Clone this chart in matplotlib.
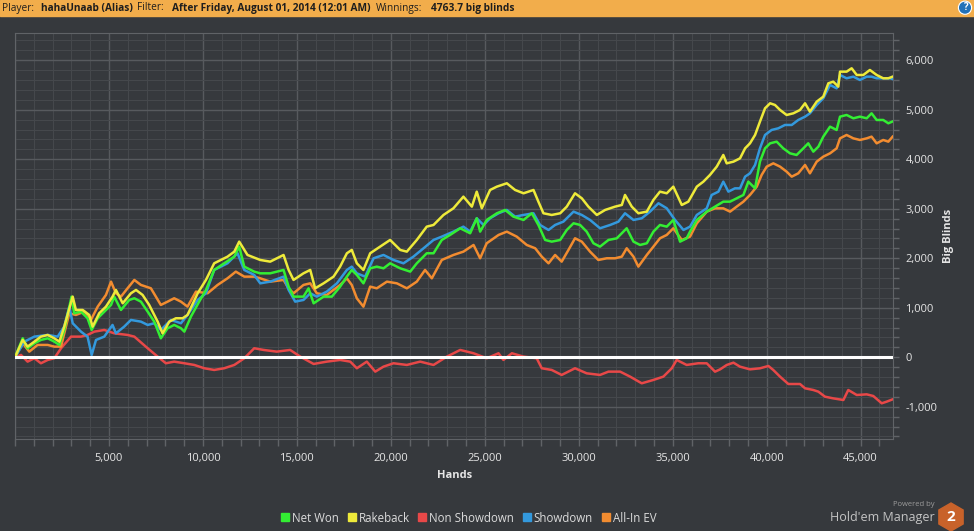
import matplotlib
matplotlib.use("Agg")
import matplotlib.pyplot as plt
from matplotlib.ticker import MultipleLocator, FuncFormatter
from matplotlib.lines import Line2D
from matplotlib.patches import Rectangle, RegularPolygon, Circle

# ── Data ────────────────────────────────────────────────────────────────────
net_won_hands = [0, 410, 670, 1030, 1380, 1740, 2090, 2360, 2620, 3010,
                 3150, 3510, 3860, 4080, 4400, 4750, 5110, 5280, 5640, 6080,
                 6350, 6700, 7060, 7410, 7760, 8120, 8470, 8830, 9010, 9360,
                 9800, 10160, 10600, 11130, 11670, 11930, 12200, 12730, 13050, 13580,
                 14290, 14560, 14820, 15350, 15620, 15890, 16420, 16860, 17300, 17660,
                 17920, 18190, 18540, 18900, 19250, 19610, 19960, 20500, 21030, 21380,
                 21910, 22270, 22710, 23150, 23690, 24220, 24570, 24750, 25100, 25640,
                 26080, 26520, 27060, 27500, 27850, 28210, 28560, 29010, 29360, 29720,
                 30070, 30420, 30780, 31130, 31580, 32020, 32550, 32910, 33260, 33620,
                 33970, 34320, 34680, 35030, 35390, 35740, 35920, 36280, 36810, 37250,
                 37690, 38050, 38400, 38760, 39020, 39380, 39640, 39910, 40180, 40530,
                 40880, 41240, 41590, 41950, 42210, 42480, 42750, 43010, 43370, 43720,
                 43900, 44250, 44610, 44960, 45320, 45580, 45850, 46200, 46470, 46700]
net_won_bb = [0, 383, 181, 282, 350, 383, 316, 249, 552, 1225,
              889, 922, 788, 552, 788, 922, 1057, 1225, 956, 1158,
              1192, 1124, 922, 720, 383, 586, 653, 586, 518, 821,
              1124, 1360, 1764, 1899, 2033, 2235, 1831, 1730, 1696, 1696,
              1764, 1427, 1225, 1225, 1393, 1090, 1225, 1225, 1427, 1629,
              1764, 1663, 1494, 1797, 1831, 1797, 1898, 1797, 1730, 1898,
              2101, 2101, 2370, 2471, 2606, 2505, 2808, 2538, 2774, 2909,
              2976, 2841, 2774, 2909, 2673, 2370, 2336, 2370, 2572, 2707,
              2673, 2538, 2303, 2235, 2370, 2403, 2606, 2336, 2269, 2303,
              2538, 2673, 2639, 2774, 2336, 2403, 2538, 2774, 2942, 3043,
              3144, 3144, 3211, 3279, 3548, 3413, 3952, 4221, 4322, 4356,
              4221, 4120, 4087, 4221, 4322, 4154, 4255, 4457, 4659, 4592,
              4861, 4895, 4828, 4861, 4828, 4929, 4794, 4794, 4727, 4764]

rakeback_hands = [0, 410, 670, 1030, 1380, 1740, 2090, 2360, 2620, 3070,
                  3240, 3600, 3950, 4130, 4480, 4840, 5190, 5370, 5730, 6170,
                  6440, 6790, 7140, 7590, 7850, 8210, 8560, 8920, 9180, 9720,
                  10160, 10600, 11310, 11670, 11930, 12370, 12820, 13050, 13580, 14290,
                  14560, 14820, 15350, 15710, 15970, 16420, 16950, 17300, 17660, 17920,
                  18190, 18540, 18900, 19430, 19960, 20500, 20850, 21380, 21910, 22270,
                  22800, 23330, 23860, 24310, 24570, 24840, 25280, 25640, 26170, 26610,
                  27060, 27590, 27850, 28120, 28560, 29010, 29360, 29800, 30160, 30510,
                  30960, 31400, 31930, 32290, 32460, 32820, 33170, 33620, 33970, 34320,
                  34680, 35030, 35480, 35830, 36280, 36630, 36980, 37340, 37690, 37870,
                  38230, 38580, 38850, 39110, 39380, 39640, 39910, 40180, 40440, 40710,
                  41060, 41420, 41770, 42040, 42300, 42660, 43010, 43280, 43540, 43810,
                  43900, 44250, 44520, 44790, 45140, 45490, 45850, 46200, 46470, 46700]
rakeback_bb = [0, 350, 215, 316, 417, 451, 383, 316, 619, 1225,
               956, 956, 855, 619, 889, 1023, 1225, 1360, 1091, 1293,
               1360, 1259, 1057, 720, 484, 720, 788, 788, 855, 1293,
               1562, 1899, 2033, 2134, 2336, 2067, 2000, 1966, 1932, 2067,
               1764, 1562, 1696, 1764, 1393, 1494, 1629, 1831, 2101, 2168,
               1898, 1764, 2101, 2235, 2370, 2168, 2134, 2370, 2639, 2673,
               2875, 3010, 3245, 3043, 3346, 3010, 3380, 3447, 3515, 3380,
               3313, 3380, 3144, 2909, 2875, 2909, 3043, 3313, 3212, 3043,
               2875, 2976, 3043, 3077, 3279, 3043, 2909, 2942, 3178, 3346,
               3313, 3447, 3077, 3144, 3447, 3548, 3683, 3851, 4087, 3918,
               3952, 4019, 4221, 4322, 4491, 4760, 5030, 5131, 5097, 4996,
               4895, 4929, 4996, 5131, 4962, 5164, 5265, 5535, 5568, 5467,
               5770, 5770, 5838, 5703, 5703, 5804, 5703, 5636, 5636, 5669]

non_showdown_hands = [0, 320, 670, 1030, 1380, 1740, 2090, 2450, 2980, 3510,
                      3860, 4220, 4750, 5280, 5990, 6350, 7060, 7590, 8030, 8470,
                      9010, 9540, 10070, 10600, 11130, 11670, 12200, 12730, 13230, 13930,
                      14640, 15180, 15890, 16590, 17300, 17840, 18190, 18720, 19170, 19610,
                      20140, 20850, 21560, 22270, 22980, 23690, 24400, 25100, 25730, 25990,
                      26440, 27060, 27760, 28030, 28560, 29090, 29800, 30420, 31130, 31580,
                      32200, 32730, 33350, 33970, 34500, 34950, 35210, 35740, 36360, 36810,
                      37250, 37520, 37870, 38230, 38580, 39110, 39640, 40090, 40350, 40710,
                      41150, 41770, 42040, 42480, 42750, 43100, 43540, 44080, 44340, 44790,
                      45320, 45670, 46120, 46380, 46700]
non_showdown_bb = [0, 47, -88, -20, -121, -54, -20, 182, 417, 417,
                   451, 518, 552, 484, 451, 417, 182, 13, -121, -88,
                   -121, -155, -222, -256, -222, -155, -20, 182, 148, 114,
                   148, 13, -135, -88, -54, -88, -222, -88, -290, -189,
                   -121, -155, -88, -155, 13, 148, 81, -20, 81, -54,
                   81, 13, -20, -222, -256, -357, -222, -324, -357, -290,
                   -290, -391, -526, -458, -391, -222, -54, -155, -121, -122,
                   -291, -244, -156, -109, -190, -244, -223, -176, -257, -392,
                   -540, -540, -627, -661, -695, -796, -830, -863, -661, -762,
                   -749, -782, -930, -897, -850]

showdown_hands = [0, 500, 1030, 1740, 2270, 2620, 2890, 3070, 3510, 3860,
                  4080, 4310, 4750, 5190, 5370, 5810, 6170, 6700, 7060, 7410,
                  7760, 8300, 8830, 9180, 9720, 10160, 10600, 11310, 11840, 12200,
                  12730, 13050, 13580, 14290, 14560, 14910, 15350, 15710, 16060, 16590,
                  17130, 17660, 17920, 18190, 18630, 19080, 19610, 20140, 20670, 21200,
                  21740, 22270, 22710, 23330, 23860, 24220, 24570, 24930, 25280, 25730,
                  26170, 26610, 27060, 27590, 27940, 28390, 28740, 29180, 29720, 30160,
                  30600, 31130, 31670, 32110, 32460, 32910, 33350, 33790, 34240, 34680,
                  35120, 35570, 35920, 36280, 36810, 37070, 37430, 37690, 37960, 38310,
                  38580, 38850, 39110, 39380, 39640, 39910, 40260, 40620, 40970, 41330,
                  41680, 42040, 42300, 42660, 43010, 43370, 43720, 43900, 44250, 44610,
                  44960, 45320, 45580, 45850, 46200, 46560, 46700]
showdown_bb = [0, 316, 417, 451, 417, 619, 1023, 687, 518, 417,
               47, 350, 417, 653, 484, 619, 754, 720, 653, 687,
               552, 754, 687, 855, 1158, 1293, 1764, 1899, 2101, 1764,
               1663, 1494, 1528, 1629, 1360, 1124, 1158, 1292, 1225, 1326,
               1494, 1764, 1831, 1696, 1629, 2000, 2067, 1966, 1898, 2033,
               2202, 2370, 2437, 2538, 2639, 2538, 2808, 2673, 2808, 2909,
               2976, 2841, 2875, 2909, 2673, 2572, 2673, 2740, 2942, 2875,
               2774, 2606, 2673, 2740, 2909, 2774, 2808, 2942, 3111, 3010,
               2774, 2572, 2639, 2875, 3009, 3279, 3346, 3548, 3346, 3413,
               3413, 3649, 3716, 3885, 4221, 4491, 4592, 4626, 4693, 4693,
               4794, 4861, 4929, 5097, 5232, 5501, 5434, 5703, 5636, 5669,
               5602, 5669, 5669, 5636, 5636, 5636, 5620]

allin_ev_hands = [0, 410, 760, 1200, 1740, 2090, 2450, 2710, 2890, 3240,
                  3690, 4040, 4400, 4840, 5110, 5370, 5640, 5990, 6350, 6700,
                  6970, 7230, 7760, 8120, 8470, 8830, 9180, 9630, 10250, 10780,
                  11310, 11750, 12200, 12730, 13050, 13580, 14290, 14560, 14820, 15350,
                  15710, 16060, 16590, 17300, 17660, 17920, 18190, 18540, 18900, 19250,
                  19790, 20320, 20850, 21380, 21820, 22180, 22710, 23330, 23860, 24400,
                  24750, 25100, 25730, 26170, 26700, 27230, 27680, 28030, 28390, 28740,
                  29090, 29450, 29800, 30160, 30600, 31040, 31490, 31930, 32290, 32550,
                  32910, 33170, 33620, 33970, 34320, 34680, 35030, 35480, 35920, 36280,
                  36810, 37250, 37690, 38050, 38400, 38760, 39110, 39470, 39730, 40000,
                  40350, 40710, 41060, 41330, 41680, 42040, 42300, 42660, 43010, 43370,
                  43720, 43900, 44250, 44610, 44960, 45320, 45580, 45850, 46200, 46470,
                  46700]
allin_ev_bb = [0, 283, 114, 249, 249, 215, 215, 619, 889, 855,
               922, 754, 1023, 1259, 1528, 1293, 1225, 1394, 1562, 1461,
               1427, 1394, 1057, 1124, 1192, 1124, 1023, 1326, 1293, 1461,
               1596, 1730, 1629, 1629, 1595, 1528, 1562, 1393, 1292, 1461,
               1494, 1292, 1259, 1461, 1595, 1461, 1191, 1023, 1427, 1393,
               1528, 1494, 1393, 1528, 1764, 1595, 1966, 2067, 2134, 2269,
               2000, 2303, 2471, 2538, 2437, 2269, 2202, 2033, 1898, 2067,
               1932, 2168, 2404, 2336, 2134, 1966, 2000, 2000, 2033, 2202,
               2033, 1831, 2067, 2235, 2404, 2471, 2606, 2370, 2437, 2706,
               2942, 3009, 3009, 2942, 3043, 3144, 3279, 3447, 3683, 3851,
               3918, 3851, 3750, 3649, 3716, 3885, 3716, 3952, 4053, 4120,
               4221, 4423, 4491, 4423, 4390, 4423, 4457, 4322, 4390, 4356,
               4457]

series_labels = ["Net Won", "Rakeback", "Non Showdown", "Showdown", "All-In EV"]

# ── Colours ─────────────────────────────────────────────────────────────────
BG = "#36393d"
GREEN = "#33ee33"
YELLOW = "#eeea3a"
RED = "#e84848"
BLUE = "#3399dd"
ORANGE = "#f28c30"
TXT = "#e6e6e6"
SPINE = "#606367"

plt.rcParams["font.family"] = ["Open Sans", "DejaVu Sans"]

W, H = 974, 531
fig = plt.figure(figsize=(W / 100, H / 100), dpi=100, facecolor=BG)
ax = fig.add_axes([15 / W, 1 - 438.7 / H, 878 / W, 405.4 / H])
ax.set_facecolor(BG)

# ── Lines ───────────────────────────────────────────────────────────────────
lw = 1.8
ax.plot(non_showdown_hands, non_showdown_bb, color=RED, lw=lw, zorder=3)
ax.plot(allin_ev_hands, allin_ev_bb, color=ORANGE, lw=lw, zorder=3)
ax.plot(showdown_hands, showdown_bb, color=BLUE, lw=lw, zorder=4)
ax.plot(net_won_hands, net_won_bb, color=GREEN, lw=lw, zorder=5)
ax.plot(rakeback_hands, rakeback_bb, color=YELLOW, lw=lw, zorder=5)
ax.axhline(0, color="white", lw=2.2, zorder=6)

# ── Axes styling ────────────────────────────────────────────────────────────
ax.set_xlim(0, 46720)
ax.set_ylim(-1645, 6545)
ax.xaxis.set_major_locator(MultipleLocator(5000))
ax.xaxis.set_minor_locator(MultipleLocator(1000))
ax.yaxis.set_major_locator(MultipleLocator(1000))
ax.yaxis.set_minor_locator(MultipleLocator(200))
ax.xaxis.set_major_formatter(FuncFormatter(lambda v, _: f"{int(v):,}" if v > 0 else ""))
ax.yaxis.set_major_formatter(FuncFormatter(lambda v, _: f"{int(v):,}"))
ax.grid(which="major", color="#575a5e", lw=1.0)
ax.grid(which="minor", color="#45484c", lw=0.8)
ax.set_axisbelow(True)

ax.yaxis.tick_right()
ax.tick_params(which="both", color=SPINE, labelcolor=TXT, labelsize=8, width=1)
ax.tick_params(axis="x", which="both", length=5, pad=5)
ax.tick_params(axis="y", which="both", length=4, pad=5)
for s in ax.spines.values():
    s.set_color(SPINE)

fig.text(455 / W, 1 - 475 / H, "Hands", color=TXT, fontsize=8, fontweight="bold",
         ha="center", va="center")
fig.text(948 / W, 1 - 236 / H, "Big Blinds", color=TXT, fontsize=8, fontweight="bold",
         ha="center", va="center", rotation=90)

# ── Legend ──────────────────────────────────────────────────────────────────
handles = [Line2D([], [], marker="s", ls="none", ms=6, color=c)
           for c in [GREEN, YELLOW, RED, BLUE, ORANGE]]
fig.legend(handles, series_labels, loc="center", bbox_to_anchor=(469 / W, 1 - 518 / H),
           ncol=5, frameon=False, fontsize=8.3, labelcolor="#dcdcdc",
           handlelength=0.6, handletextpad=0.3, columnspacing=0.8)

# ── Header bar ──────────────────────────────────────────────────────────────
fig.add_artist(Rectangle((0, 1 - 16 / H), 1, 16 / H, transform=fig.transFigure,
                         color="#f2ad4b", zorder=0))
pieces = [("Player:", "normal", 7), ("hahaUnaab (Alias)", "bold", 4),
          ("Filter:", "normal", 8), ("After Friday, August 01, 2014 (12:01 AM)", "bold", 6),
          ("Winnings:", "normal", 9), ("4763.7 big blinds", "bold", 0)]
renderer = fig.canvas.get_renderer()
x = 2
for txt, weight, gap in pieces:
    t = fig.text(x / W, 1 - 8 / H, txt, fontsize=7.25, fontweight=weight,
                 color="#1e1e1e", ha="left", va="center")
    x = t.get_window_extent(renderer=renderer).x1 + gap

fig.add_artist(Circle((965 / 100, (H - 7.7) / 100), 0.066, transform=fig.dpi_scale_trans,
                      facecolor="#2271b8", edgecolor="white", lw=0.8, zorder=2))
fig.text(965 / W, 1 - 8 / H, "?", fontsize=7, fontweight="bold", color="white",
         ha="center", va="center")

# ── Powered by logo ─────────────────────────────────────────────────────────
fig.text(935 / W, 1 - 505 / H, "Powered by", fontsize=5.5, color="#9c9c9c",
         ha="right", va="center")
fig.text(935 / W, 1 - 517 / H, "Hold'em Manager", fontsize=9, color="#c4c4c4",
         ha="right", va="center")
fig.add_artist(RegularPolygon((951 / 100, (H - 517) / 100), numVertices=6, radius=0.14,
                              orientation=0, transform=fig.dpi_scale_trans,
                              color="#c8622a"))
fig.text(951 / W, 1 - 517 / H, "2", fontsize=11, fontweight="bold", color="white",
         ha="center", va="center")

fig.savefig("out.png", dpi=100, facecolor=BG)
